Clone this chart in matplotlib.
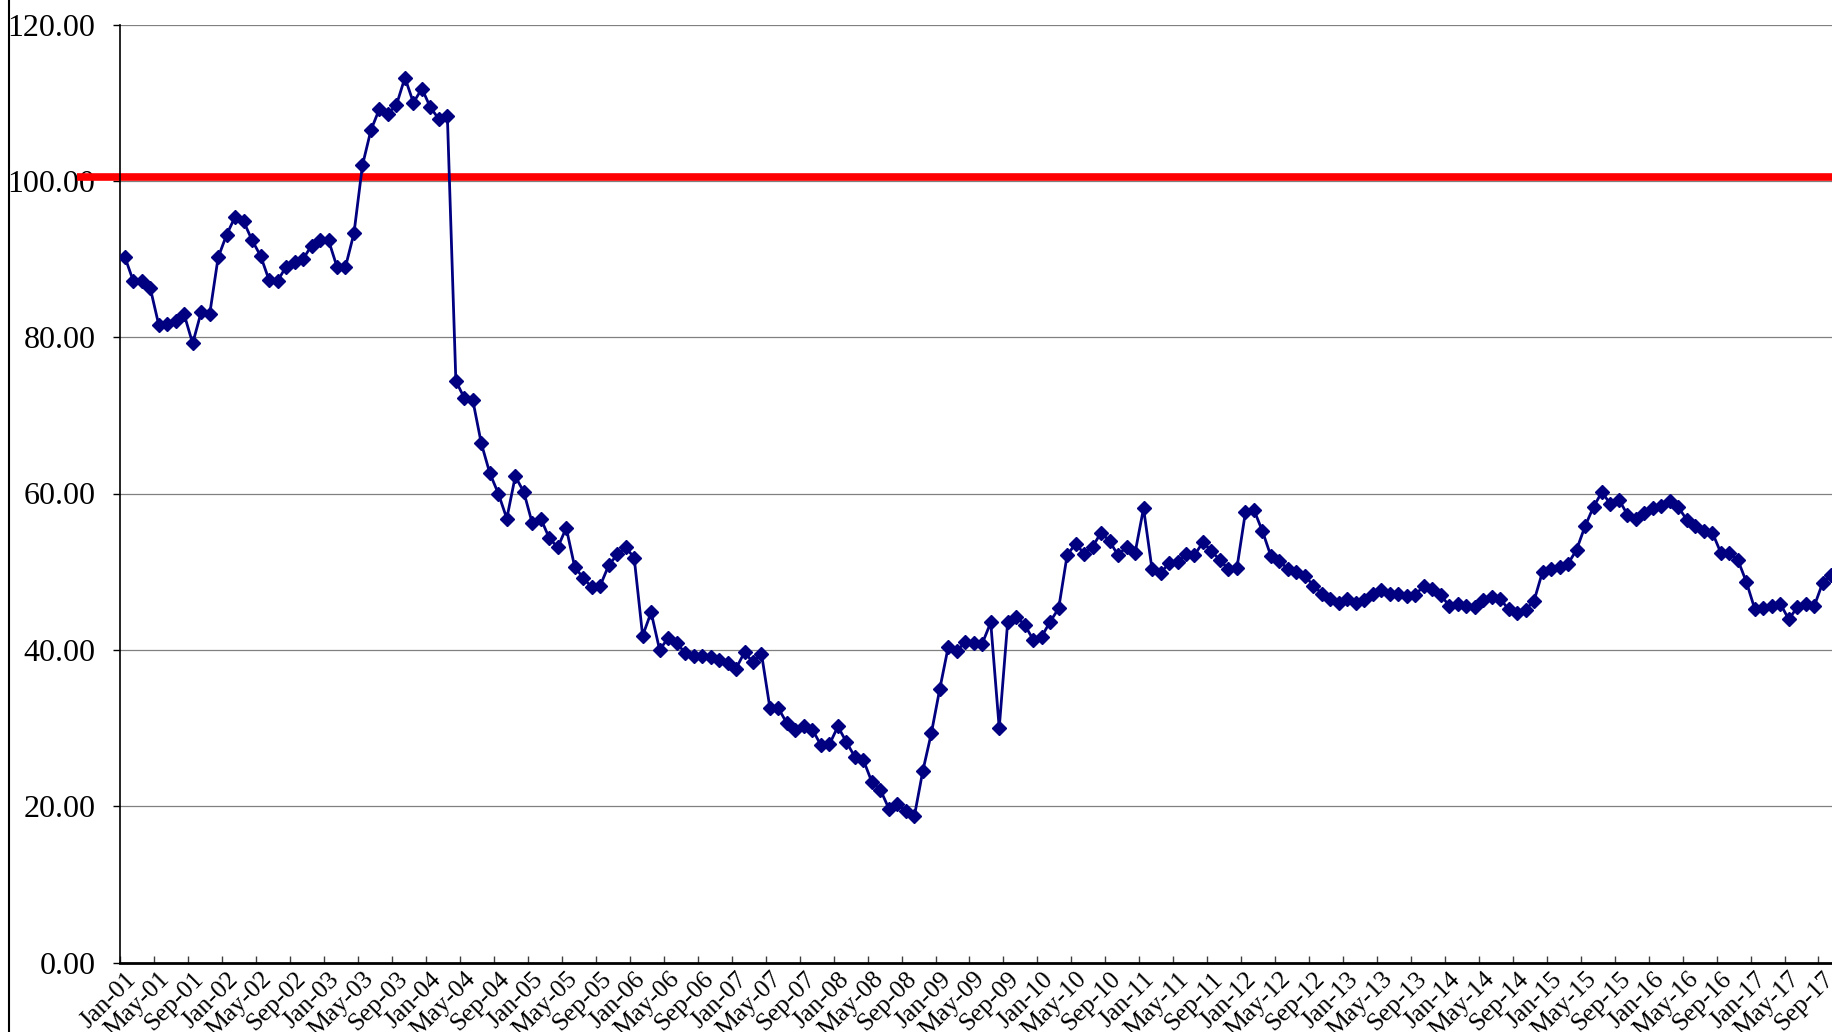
import matplotlib
matplotlib.use("Agg")
import matplotlib.pyplot as plt
from matplotlib.lines import Line2D
from matplotlib.ticker import FixedLocator, FormatStrFormatter

plt.rcParams['font.family'] = ['Liberation Serif', 'DejaVu Serif']

MONTHS = ['Jan', 'Feb', 'Mar', 'Apr', 'May', 'Jun',
          'Jul', 'Aug', 'Sep', 'Oct', 'Nov', 'Dec']
YEARS = list(range(1, 18))
categories = [f"{m}-{y:02d}" for y in YEARS for m in MONTHS]

# monthly values
v2001 = [90.3, 87.2, 87.2, 86.3, 81.6, 81.7, 82.1, 82.9, 79.2, 83.2, 82.9, 90.2]
v2002 = [93.1, 95.4, 94.8, 92.4, 90.4, 87.3, 87.2, 89.0, 89.6, 90.0, 91.7, 92.4]
v2003 = [92.4, 89.0, 89.0, 93.3, 102.0, 106.5, 109.2, 108.6, 109.7, 113.2, 110.0, 111.8]
v2004 = [109.4, 107.9, 108.3, 74.4, 72.2, 71.9, 66.4, 62.6, 60.0, 56.8, 62.2, 60.2]
v2005 = [56.2, 56.8, 54.3, 53.1, 55.6, 50.6, 49.2, 48.0, 48.2, 50.8, 52.2, 53.1]
v2006 = [51.8, 41.8, 44.8, 40.0, 41.5, 40.9, 39.6, 39.2, 39.2, 39.05, 38.7, 38.3]
v2007 = [37.6, 39.7, 38.4, 39.5, 32.5, 32.5, 30.6, 29.8, 30.2, 29.8, 27.8, 27.9]
v2008 = [30.2, 28.2, 26.3, 25.9, 23.1, 22.1, 19.7, 20.3, 19.4, 18.7, 24.5, 29.3]
v2009 = [35.0, 40.4, 39.8, 41.05, 40.9, 40.8, 43.5, 30.0, 43.6, 44.25, 43.2, 41.3]
v2010 = [41.7, 43.6, 45.3, 52.1, 53.6, 52.3, 53.2, 55.0, 53.9, 52.1, 53.2, 52.4]
v2011 = [58.1, 50.3, 49.8, 51.1, 51.3, 52.2, 52.1, 53.8, 52.6, 51.5, 50.3, 50.5]
v2012 = [57.6, 57.9, 55.2, 52.0, 51.4, 50.3, 49.9, 49.5, 48.2, 47.2, 46.5, 46.0]
v2013 = [46.5, 46.0, 46.4, 47.1, 47.7, 47.2, 47.1, 46.9, 47.0, 48.2, 47.8, 47.0]
v2014 = [45.65, 45.9, 45.6, 45.5, 46.4, 46.8, 46.5, 45.2, 44.7, 45.1, 46.3, 50.0]
v2015 = [50.4, 50.6, 51.0, 52.8, 55.8, 58.3, 60.2, 58.6, 59.2, 57.3, 56.8, 57.5]
v2016 = [58.1, 58.4, 59.0, 58.25, 56.6, 55.85, 55.2, 55.0, 52.4, 52.4, 51.5, 48.7]
v2017 = [45.2, 45.3, 45.6, 45.9, 43.9, 45.45, 45.8, 45.6, 48.6, 49.6]

values = (v2001 + v2002 + v2003 + v2004 + v2005 + v2006 + v2007 + v2008 + v2009
          + v2010 + v2011 + v2012 + v2013 + v2014 + v2015 + v2016 + v2017)

ref_level = 100.45
y_ticks = [0, 20, 40, 60, 80, 100, 120]

W, H = 1832, 1032
fig = plt.figure(figsize=(W / 100, H / 100), dpi=100)
fig.patch.set_facecolor('white')

n_cat = len(categories)
px_per_cat = 8.49
left_px, top_px, bottom_px = 120.5, 24.5, 962.5
ax = fig.add_axes([left_px / W, 1 - bottom_px / H,
                   n_cat * px_per_cat / W, (bottom_px - top_px) / H])

x = list(range(len(values)))
ax.plot(x, values, color='#000080', lw=2, marker='D', ms=7.5,
        mec='#000080', mew=1, zorder=3)

# red reference line, starts a bit left of the plot area
x_start = (77 - left_px) / px_per_cat - 0.5
ax.plot([x_start, n_cat], [ref_level, ref_level], color='#ff0000', lw=5.5,
        solid_capstyle='butt', clip_on=False, zorder=2)

ax.set_xlim(-0.5, n_cat - 0.5)
ax.set_ylim(0, 120)

ax.set_yticks(y_ticks)
ax.yaxis.set_major_formatter(FormatStrFormatter('%.2f'))
ax.yaxis.grid(True, color='#808080', lw=0.9)
ax.set_axisbelow(True)
ax.tick_params(axis='y', direction='out', length=5, width=1, pad=13,
               labelsize=23, colors='black')

label_pos = [i for i in range(n_cat) if i % 4 == 0]
ax.xaxis.set_major_locator(FixedLocator(label_pos))
ax.set_xticklabels([categories[i] for i in label_pos], rotation=45,
                   ha='right', va='top', rotation_mode='anchor')
ax.tick_params(axis='x', which='major', length=0, pad=4, labelsize=18.5)
ax.xaxis.set_minor_locator(FixedLocator([i - 0.5 for i in label_pos]))
ax.tick_params(axis='x', which='minor', direction='in', length=5, width=1,
               color='#404040')

ax.spines['top'].set_visible(False)
ax.spines['right'].set_visible(False)
ax.spines['left'].set_color('black')
ax.spines['left'].set_linewidth(1.2)
ax.spines['bottom'].set_color('black')
ax.spines['bottom'].set_linewidth(2)

# chart-area border on the far left
fig.add_artist(Line2D([8.5 / W, 8.5 / W], [0, 1], color='black', lw=1.5))

fig.savefig('out.png', dpi=100, facecolor='white')
